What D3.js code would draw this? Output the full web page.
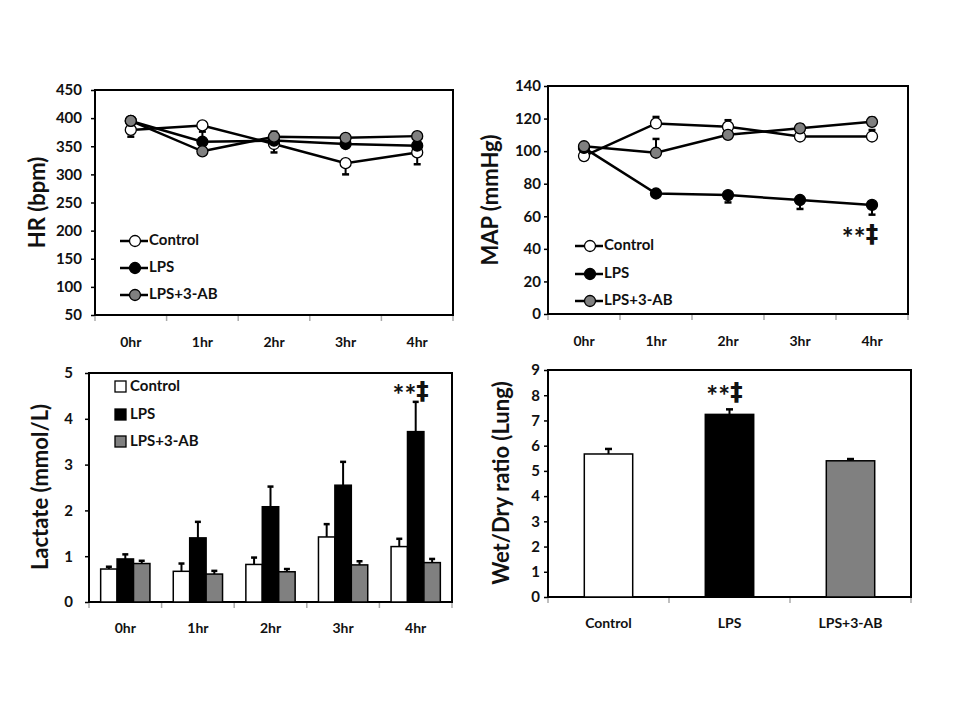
<!DOCTYPE html>
<html>
<head>
<meta charset="utf-8">
<script src="https://cdn.jsdelivr.net/npm/d3@7"></script>
<style>
  body { margin: 0; background: #fff; }
  text { font-family: Lato, "Open Sans", "DejaVu Sans", sans-serif; font-weight: bold; fill: #111; }
</style>
</head>
<body>
<script>
// ---------------- DATA ----------------
const hours = ["0hr", "1hr", "2hr", "3hr", "4hr"];
const groups = ["Control", "LPS", "LPS+3-AB"];
const groupFills = ["#ffffff", "#000000", "#808080"];

// Heart rate (bpm)
const hrTicks = [50, 100, 150, 200, 250, 300, 350, 400, 450];
const hrControl = [379, 387, 354, 320, 339];
const hrControlErr = [-12, -4, -15, -20, -21];
const hrLPS = [395, 358, 360, 354, 351];
const hrLPSErr = [4, 18, 5, 5, 5];
const hrAB = [395, 341, 367, 365, 368];
const hrABErr = [4, 4, 9, 6, 6];

// Mean arterial pressure (mmHg)
const mapTicks = [0, 20, 40, 60, 80, 100, 120, 140];
const mapControl = [97, 117, 115, 109, 109];
const mapControlErr = [2, 4, 4, 3, 4];
const mapLPS = [102, 74, 73, 70, 67];
const mapLPSErr = [-2, -2, -4.5, -5.5, -6];
const mapAB = [103, 99, 110, 114, 118];
const mapABErr = [2, 8.5, 2, 2.5, 2.5];
const mapAnnot = { hour: "4hr", value: 45 };

// Lactate (mmol/L)
const lacTicks = [0, 1, 2, 3, 4, 5];
const lacControl = [0.72, 0.67, 0.82, 1.42, 1.21];
const lacControlErr = [0.05, 0.17, 0.15, 0.28, 0.17];
const lacLPS = [0.94, 1.40, 2.08, 2.55, 3.72];
const lacLPSErr = [0.10, 0.35, 0.44, 0.51, 0.65];
const lacAB = [0.84, 0.61, 0.66, 0.81, 0.86];
const lacABErr = [0.06, 0.07, 0.06, 0.08, 0.08];
const lacAnnot = { hour: "4hr", value: 4.45 };

// Wet/Dry ratio (Lung)
const wdTicks = [0, 1, 2, 3, 4, 5, 6, 7, 8, 9];
const wdValues = [5.67, 7.24, 5.40];
const wdErr = [0.20, 0.20, 0.07];
const wdAnnot = { group: "LPS", value: 7.85 };

const sigStars = "**";
const sigDagger = "‡";

// ---------------- DRAWING ----------------
const svg = d3.select("body").append("svg").attr("width", 960).attr("height", 720);

function frame(g, x0, x1, y0, y1) {
  g.append("rect").attr("x", x0).attr("y", y0).attr("width", x1 - x0).attr("height", y1 - y0)
    .attr("fill", "none").attr("stroke", "#000").attr("stroke-width", 2);
}

function yAxis(g, y, x0, ticks, pad) {
  const ax = g.append("g").attr("transform", `translate(${x0},0)`)
    .call(d3.axisLeft(y).tickValues(ticks).tickSize(4).tickPadding(pad).tickFormat(d3.format("d")));
  ax.select(".domain").remove();
  ax.selectAll(".tick line").attr("stroke", "#000").attr("stroke-width", 1.5);
  ax.selectAll(".tick text").attr("font-size", 15).attr("fill", "#111")
    .attr("font-family", "Lato, 'Open Sans', sans-serif").attr("font-weight", "bold");
}

function xAxis(g, x, y1, labelDy) {
  const dom = x.domain();
  const bounds = dom.map(d => x(d)).concat([x(dom[dom.length - 1]) + x.step()]);
  g.selectAll(".xt").data(bounds).enter().append("line")
    .attr("x1", d => d).attr("x2", d => d).attr("y1", y1 + 1).attr("y2", y1 + 6)
    .attr("stroke", "#aaa").attr("stroke-width", 1.5);
  g.selectAll(".xl").data(dom).enter().append("text")
    .attr("x", d => x(d) + x.bandwidth() / 2).attr("y", y1 + labelDy)
    .attr("text-anchor", "middle").attr("font-size", 14).text(d => d);
}

function yLabel(g, text, cx, cy) {
  g.append("text").attr("transform", `translate(${cx},${cy}) rotate(-90)`)
    .attr("text-anchor", "middle").attr("dominant-baseline", "middle")
    .attr("font-size", 22).text(text);
}

function annot(g, cx, baseY) {
  const t = g.append("text").attr("x", cx).attr("y", baseY).attr("text-anchor", "middle");
  t.append("tspan").attr("font-size", 28).attr("dy", 7).text(sigStars);
  t.append("tspan").attr("font-size", 25).attr("dy", -6).attr("font-family", "'DejaVu Sans', sans-serif").text(sigDagger);
}

function errBar(g, x, yv, yEnd, capW) {
  g.append("line").attr("x1", x).attr("x2", x).attr("y1", yv).attr("y2", yEnd)
    .attr("stroke", "#000").attr("stroke-width", 2);
  g.append("line").attr("x1", x - capW / 2).attr("x2", x + capW / 2).attr("y1", yEnd).attr("y2", yEnd)
    .attr("stroke", "#000").attr("stroke-width", 2.5);
}

function linePanel(cfg) {
  const g = svg.append("g");
  const x = d3.scaleBand().domain(hours).range([cfg.x0, cfg.x1]);
  const y = d3.scaleLinear().domain([cfg.ticks[0], cfg.ticks[cfg.ticks.length - 1]]).range([cfg.y1, cfg.y0]);
  const cx = h => x(h) + x.bandwidth() / 2;
  frame(g, cfg.x0, cfg.x1, cfg.y0, cfg.y1);
  yAxis(g, y, cfg.x0, cfg.ticks, cfg.pad);
  xAxis(g, x, cfg.y1, 32);
  yLabel(g, cfg.label, cfg.labelX, (cfg.y0 + cfg.y1) / 2);

  const line = d3.line().x((d, i) => cx(hours[i])).y(d => y(d));
  cfg.series.forEach(s => {
    g.append("path").attr("d", line(s.values)).attr("fill", "none")
      .attr("stroke", "#000").attr("stroke-width", 2.5);
  });
  cfg.series.forEach(s => {
    s.values.forEach((v, i) => errBar(g, cx(hours[i]), y(v), y(v + s.err[i]), 7));
  });
  cfg.series.forEach((s, k) => {
    g.selectAll(null).data(s.values).enter().append("circle")
      .attr("cx", (d, i) => cx(hours[i])).attr("cy", d => y(d)).attr("r", 5.5)
      .attr("fill", groupFills[k]).attr("stroke", "#000").attr("stroke-width", 1.3);
  });
  // legend
  groups.forEach((name, k) => {
    const ly = cfg.legY[k];
    g.append("line").attr("x1", cfg.legX).attr("x2", cfg.legX + 28).attr("y1", ly).attr("y2", ly)
      .attr("stroke", "#000").attr("stroke-width", 2.5);
    g.append("circle").attr("cx", cfg.legX + 15).attr("cy", ly).attr("r", 5.5)
      .attr("fill", groupFills[k]).attr("stroke", "#000").attr("stroke-width", 1.3);
    g.append("text").attr("x", cfg.legX + 29).attr("y", ly).attr("dominant-baseline", "middle")
      .attr("font-size", 15).text(name);
  });
  if (cfg.annot) annot(g, cx(cfg.annot.hour) - 12, y(cfg.annot.value));
}

linePanel({
  x0: 95, x1: 453, y0: 90, y1: 315, ticks: hrTicks, pad: 9, label: "HR (bpm)", labelX: 39,
  series: [
    { values: hrControl, err: hrControlErr },
    { values: hrLPS, err: hrLPSErr },
    { values: hrAB, err: hrABErr }
  ],
  legX: 120, legY: [241, 268, 295]
});

linePanel({
  x0: 548, x1: 908, y0: 86, y1: 314, ticks: mapTicks, pad: 3, label: "MAP (mmHg)", labelX: 492,
  series: [
    { values: mapControl, err: mapControlErr },
    { values: mapLPS, err: mapLPSErr },
    { values: mapAB, err: mapABErr }
  ],
  legX: 575, legY: [246, 274, 301], annot: mapAnnot
});

// Lactate grouped bars
(function () {
  const cfg = { x0: 89, x1: 452, y0: 373, y1: 602 };
  const g = svg.append("g");
  const x = d3.scaleBand().domain(hours).range([cfg.x0, cfg.x1]);
  const xs = d3.scaleBand().domain(groups).range([0, x.bandwidth()]).paddingInner(0).paddingOuter(0.71);
  const y = d3.scaleLinear().domain([0, 5]).range([cfg.y1, cfg.y0]);
  frame(g, cfg.x0, cfg.x1, cfg.y0, cfg.y1);
  yAxis(g, y, cfg.x0, lacTicks, 12);
  xAxis(g, x, cfg.y1, 31);
  yLabel(g, "Lactate (mmol/L)", 42, 487);
  const vals = [lacControl, lacLPS, lacAB];
  const errs = [lacControlErr, lacLPSErr, lacABErr];
  groups.forEach((name, k) => {
    vals[k].forEach((v, i) => {
      const bx = x(hours[i]) + xs(name);
      errBar(g, bx + xs.bandwidth() / 2, y(v), y(v + errs[k][i]), 6);
      g.append("rect").attr("x", bx).attr("y", y(v)).attr("width", xs.bandwidth()).attr("height", y(0) - y(v))
        .attr("fill", groupFills[k]).attr("stroke", "#000").attr("stroke-width", 1.5);
    });
  });
  const legY = [387, 415, 442];
  groups.forEach((name, k) => {
    g.append("rect").attr("x", 115).attr("y", legY[k] - 6).attr("width", 11).attr("height", 11)
      .attr("fill", groupFills[k]).attr("stroke", "#000").attr("stroke-width", 1.3);
    g.append("text").attr("x", 130).attr("y", legY[k]).attr("dominant-baseline", "middle")
      .attr("font-size", 15).text(name);
  });
  annot(g, x(lacAnnot.hour) + x.bandwidth() / 2 - 5, y(lacAnnot.value));
})();

// Wet/Dry bars
(function () {
  const cfg = { x0: 548, x1: 911, y0: 370, y1: 597 };
  const g = svg.append("g");
  const x = d3.scaleBand().domain(groups).range([cfg.x0, cfg.x1]);
  const y = d3.scaleLinear().domain([0, 9]).range([cfg.y1, cfg.y0]);
  frame(g, cfg.x0, cfg.x1, cfg.y0, cfg.y1);
  yAxis(g, y, cfg.x0, wdTicks, 4);
  xAxis(g, x, cfg.y1, 31);
  yLabel(g, "Wet/Dry ratio (Lung)", 503, 483);
  const bw = x.bandwidth() * 0.4;
  groups.forEach((name, k) => {
    const c = x(name) + x.bandwidth() / 2;
    errBar(g, c, y(wdValues[k]), y(wdValues[k] + wdErr[k]), 7);
    g.append("rect").attr("x", c - bw / 2).attr("y", y(wdValues[k])).attr("width", bw)
      .attr("height", y(0) - y(wdValues[k]))
      .attr("fill", groupFills[k]).attr("stroke", "#000").attr("stroke-width", 1.5);
  });
  annot(g, x(wdAnnot.group) + x.bandwidth() / 2 - 5, y(wdAnnot.value));
})();
</script>
</body>
</html>
